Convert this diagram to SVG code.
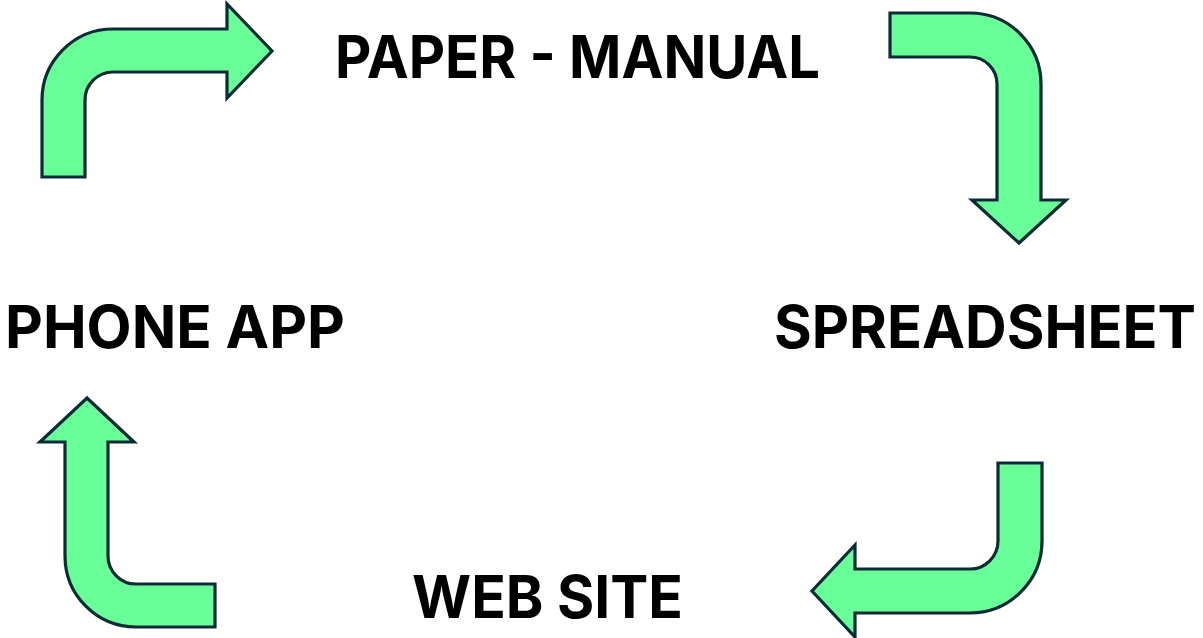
<svg xmlns="http://www.w3.org/2000/svg" width="1203" height="638" viewBox="0 0 1203 638">
<style>
.arr{fill:#69ff98;stroke:#0d2a38;stroke-width:3.2;stroke-linejoin:miter}
.lbl{font-family:Inter,"Liberation Sans",sans-serif;font-weight:700;font-size:59px;fill:#000}
</style>
<rect width="1203" height="638" fill="#fff"/>
<g id="connectors">
<path class="arr" d="M42,177 L42,100 A71,71 0 0 1 113,29 L227,29 L227,4 L272,51 L227,98 L227,72 L113,72 A28,28 0 0 0 85,100 L85,177 Z"/>
<path class="arr" d="M890,13 L970,13 A71,71 0 0 1 1041,84 L1041,200 L1066,200 L1019,243 L972,200 L997,200 L997,84 A27,27 0 0 0 970,57 L890,57 Z"/>
<path class="arr" d="M998,463 L1042,463 L1042,541 A72,72 0 0 1 970,613 L855,613 L855,637 L812,591 L855,545 L855,569 L970,569 A28,28 0 0 0 998,541 Z"/>
<path class="arr" d="M215,584 L215,627 L136,627 A71,71 0 0 1 65,556 L65,442 L40,442 L87,398 L134,442 L108,442 L108,556 A28,28 0 0 0 136,584 Z"/>
</g>
<g id="paper"><text class="lbl" x="335" y="78" textLength="485" lengthAdjust="spacingAndGlyphs">PAPER - MANUAL</text></g>
<g id="spreadsheet"><text class="lbl" x="774" y="348" textLength="422" lengthAdjust="spacingAndGlyphs">SPREADSHEET</text></g>
<g id="website"><text class="lbl" x="412" y="618" textLength="271" lengthAdjust="spacingAndGlyphs">WEB SITE</text></g>
<g id="phone"><text class="lbl" x="5" y="348" textLength="340" lengthAdjust="spacingAndGlyphs">PHONE APP</text></g>
</svg>
